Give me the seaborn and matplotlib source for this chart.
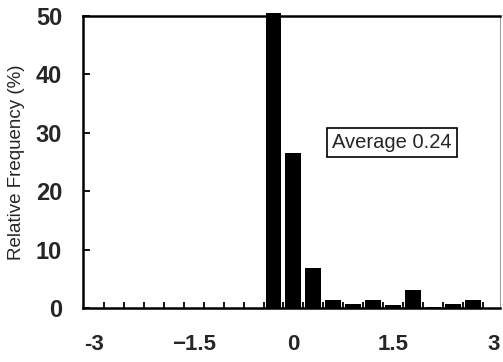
import numpy as np
import pandas as pd
import matplotlib
matplotlib.use('Agg')
import matplotlib.pyplot as plt
import seaborn as sns

# bin centres and relative frequency (%)
centers = [-0.3, 0.0, 0.3, 0.6, 0.9, 1.2, 1.5, 1.8, 2.1, 2.4, 2.7]
freq = [50.5, 26.5, 6.9, 1.4, 0.7, 1.3, 0.6, 3.1, 0.1, 0.7, 1.3]
xticks = [-3, -1.5, 0, 1.5, 3]
xtick_labels = ['-3', '\u22121.5', '0', '1.5', '3']
yticks = [0, 10, 20, 30, 40, 50]

sns.set_style('white')
plt.rcParams['font.family'] = ['Liberation Sans', 'DejaVu Sans']
plt.rcParams['xtick.bottom'] = True
plt.rcParams['ytick.left'] = True

df = pd.DataFrame({'x': centers, 'f': freq})

fig = plt.figure(figsize=(5.03, 3.62), dpi=100)
ax = fig.add_axes([0.165, 0.149, 0.829, 0.807])
sns.barplot(data=df, x='x', y='f', native_scale=True, width=0.8,
            color='black', saturation=1, ax=ax, edgecolor='black', linewidth=0)
for p in ax.patches:
    p.set_clip_on(False)

ax.set_xlim(-3.16, 3.1)
ax.set_ylim(0, 50)
ax.set_xticks(xticks)
ax.set_xticklabels(xtick_labels, fontsize=16)
ax.set_yticks(yticks)
ax.set_yticklabels([str(v) for v in yticks], fontsize=17)
ax.tick_params(axis='x', which='major', length=0, pad=19)
ax.tick_params(axis='y', direction='in', length=5, width=1.3, pad=15,
               color='black')
# small inward ticks at bin edges along the x axis
edges = np.arange(-2.85, 3.0, 0.3)
ax.set_xticks(edges, minor=True)
ax.tick_params(axis='x', which='minor', direction='in', length=4, width=1.3,
               color='black')
for lab in ax.get_xticklabels() + ax.get_yticklabels():
    lab.set_fontweight('bold')

ax.set_xlabel('')
ax.set_ylabel('Relative Frequency (%)', fontsize=13.5)
ax.yaxis.set_label_coords(-0.14, 0.5)

for side in ['left', 'bottom', 'top']:
    ax.spines[side].set_linewidth(1.8)
    ax.spines[side].set_color('black')
ax.spines['right'].set_linewidth(0.6)
ax.spines['right'].set_color('#888888')

ax.text(1.48, 28.3, 'Average 0.24', fontsize=14.5, ha='center', va='center',
        bbox=dict(boxstyle='square,pad=0.25', facecolor='white',
                  edgecolor='black', linewidth=1.2))

fig.savefig('out.png', dpi=100)
